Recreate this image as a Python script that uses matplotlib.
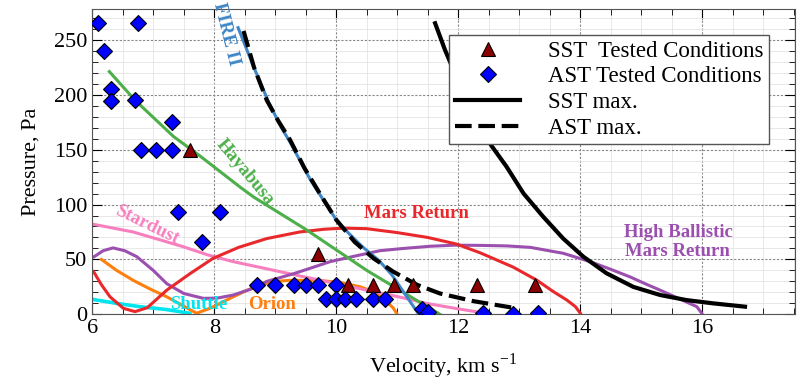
import numpy as np
import matplotlib
matplotlib.use("Agg")
import matplotlib.pyplot as plt
from matplotlib.ticker import MultipleLocator

plt.rcParams['font.family'] = ['Liberation Serif', 'DejaVu Serif']
plt.rcParams['mathtext.fontset'] = 'stix'

# tested conditions
sst_v = [7.6, 9.7, 10.2, 10.6, 10.95, 11.25, 12.3, 13.25]
sst_p = [150, 55, 27, 27, 27, 27, 27, 27]

ast_v = [6.1, 6.2, 6.3, 6.3, 6.75, 6.7, 7.3, 6.8, 7.05, 7.3,
         7.4, 8.1, 7.8,
         8.7, 9.0, 9.3, 9.5, 9.7, 10.0,
         9.83, 10.0, 10.15, 10.32, 10.6, 10.8,
         11.4, 11.5, 12.4, 12.9, 13.3]
ast_p = [265, 240, 205, 194, 265, 195, 175, 150, 150, 150,
         93, 93, 66,
         27, 27, 27, 27, 27, 27,
         14, 14, 14, 14, 14, 14,
         5, 2, 1, 0.5, 1]

# max envelopes
sstmax_v = [11.62, 11.78, 12.0, 12.2, 12.4, 12.55, 12.79, 13.07, 13.39, 13.72, 14.05,
            14.43, 14.87, 15.31, 15.74, 16.18, 16.7]
sstmax_p = [265, 241, 212, 188, 166, 153, 134.5, 110, 89, 69, 52.5,
            37.4, 25, 17.6, 13, 10, 7]

astmax_v = [8.48, 8.65, 8.86, 9.05, 9.24, 9.48, 9.73, 10.0, 10.3, 10.61, 10.93, 11.32,
            11.7, 12.25, 12.9]
astmax_p = [258, 225, 195, 176, 159, 133, 110, 86, 66, 51, 39, 27,
            19, 12, 6]

# trajectories
fire_v = [8.39, 8.64, 8.9, 9.1, 9.25, 9.57, 9.8, 10.0, 10.2, 10.44, 10.7, 10.91, 11.12, 11.34]
fire_p = [261, 226, 192, 170, 156, 123, 103, 86, 74, 61, 49, 36, 19, 1]

haya_v = [6.28, 6.7, 7.33, 7.77, 8.42, 8.64, 9.51, 10.5, 11.7]
haya_p = [221, 195, 162, 144, 116, 107, 77, 40, 0]

mars_v = [6.02, 6.15, 6.29, 6.51, 6.7, 6.9, 7.22, 7.6, 7.98, 8.4, 8.86, 9.4, 9.8, 10.12,
          10.5, 10.99, 11.5, 11.97, 12.36, 12.9, 13.29, 13.55, 13.78, 13.92, 14.0]
mars_p = [39, 27, 16, 5.5, 2.5, 6, 22, 37, 51, 61, 69, 75, 77.5, 78.5,
          78, 74.5, 70, 64, 56, 43, 31, 21, 13, 7, 1]

hb_v = [6.03, 6.18, 6.34, 6.53, 6.73, 7.0, 7.22, 7.5, 7.82, 8.05, 8.31, 8.6, 8.86, 9.3,
        9.9, 10.3, 10.72, 11.1, 11.54, 11.95, 12.36, 12.8, 13.18, 13.72, 14.16,
        14.5, 14.82, 15.1, 15.31, 15.55, 15.75, 15.91, 15.99]
hb_p = [52.5, 58, 60.5, 58, 52.5, 40, 28, 19, 14.6, 14.8, 17.6, 23, 30, 37,
        48, 53, 58, 60, 62, 63, 62.8, 62.3, 61, 55.6, 48,
        41, 34, 27, 22, 16, 11, 7, 1]

star_v = [6.02, 6.67, 7.1, 7.49, 7.9, 8.31, 8.9, 9.4, 10.0, 10.5, 11.02, 11.48, 12.0, 12.45]
star_p = [82, 75, 68, 61.6, 54, 48, 41, 35, 28, 22, 16, 10, 5, 1]

orion_v = [6.15, 6.4, 6.67, 6.95, 7.22, 7.45, 7.71, 7.95, 8.2, 8.5, 8.75, 9.0, 9.24, 9.7,
           10.06, 10.4, 10.61, 10.8, 10.93, 11.0]
orion_p = [50, 40, 31, 23, 16, 9, 1, 6, 13, 21, 27, 30, 31, 31,
           29, 25, 20.6, 13, 6, 0]

shut_v = [6.02, 6.4, 6.78, 7.2, 7.6]
shut_p = [13.5, 10, 7, 4.5, 1]

fig = plt.figure(figsize=(8.06, 3.91), dpi=100)
ax = fig.add_axes([0.1145, 0.196, 0.8719, 0.781])

lw = 2.2
ax.plot(shut_v, shut_p, color='#00e5ee', lw=2.6)
ax.plot(orion_v, orion_p, color='#ff7f0e', lw=lw)
ax.plot(star_v, star_p, color='#f77fbf', lw=lw)
ax.plot(hb_v, hb_p, color='#9b4fae', lw=lw)
ax.plot(mars_v, mars_p, color='#e8282b', lw=lw)
ax.plot(haya_v, haya_p, color='#4daf4a', lw=lw)
ax.plot(fire_v, fire_p, color='#3d86c6', lw=lw)

ax.plot(sstmax_v, sstmax_p, color='black', lw=3.0, label='SST max.')
ax.plot(astmax_v, astmax_p, color='black', lw=3.0, dashes=(4, 1.6), label='AST max.')

ax.plot(sst_v, sst_p, ls='none', marker='^', ms=10, mfc='#8b0000', mec='black', mew=0.8,
        label='SST  Tested Conditions', zorder=5)
ax.plot(ast_v, ast_p, ls='none', marker='D', ms=8, mfc='#0000ff', mec='black', mew=0.8,
        label='AST Tested Conditions', zorder=5)

lab = dict(fontweight='bold', fontsize=13.5, ha='center', va='center')
ax.text(8.2, 255, 'FIRE II', color='#3d86c6', rotation=-76, **lab)
ax.text(8.5, 129, 'Hayabusa', color='#4daf4a', rotation=-50, **lab)
ax.text(6.9, 81, 'Stardust', color='#f77fbf', rotation=-26, **lab)
ax.text(11.32, 92, 'Mars Return', color='#e8282b', **lab)
ax.text(15.6, 66, 'High Ballistic\nMars Return', color='#9b4fae', linespacing=1.15, **lab)
ax.text(7.75, 9.4, 'Shuttle', color='#00e5ee', **lab)
ax.text(8.94, 9.4, 'Orion', color='#ff7f0e', **lab)

ax.set_xlim(6, 17.52)
ax.set_ylim(0, 278)
ax.xaxis.set_major_locator(MultipleLocator(2))
ax.xaxis.set_minor_locator(MultipleLocator(0.5))
ax.yaxis.set_major_locator(MultipleLocator(50))
ax.yaxis.set_minor_locator(MultipleLocator(10))
ax.grid(which='major', color='#888888', ls=(0, (2, 1.5)), lw=0.8)
ax.grid(which='minor', color='#e4e4e4', ls='-', lw=0.6)
ax.set_axisbelow(True)
ax.tick_params(which='both', direction='in', top=True, right=True, labelsize=16)
ax.tick_params(which='major', length=7)
ax.tick_params(which='minor', length=4)
for s in ax.spines.values():
    s.set_color('#555555')

ax.set_xlabel('Velocity, km s$^{\\mathregular{-1}}$', fontsize=16, labelpad=10)
ax.set_ylabel('Pressure, Pa', fontsize=16, labelpad=10)

h, l = ax.get_legend_handles_labels()
order = [2, 3, 0, 1]
leg = ax.legend([h[i] for i in order], [l[i] for i in order], loc='upper right',
                bbox_to_anchor=(0.963, 0.915), borderaxespad=0, fontsize=16.5,
                fancybox=False, framealpha=1, edgecolor='#555555', handlelength=2.85,
                handletextpad=1.2, labelspacing=0.2, borderpad=0.25)
leg.get_frame().set_linewidth(1.0)

fig.savefig('out.png', dpi=100)
